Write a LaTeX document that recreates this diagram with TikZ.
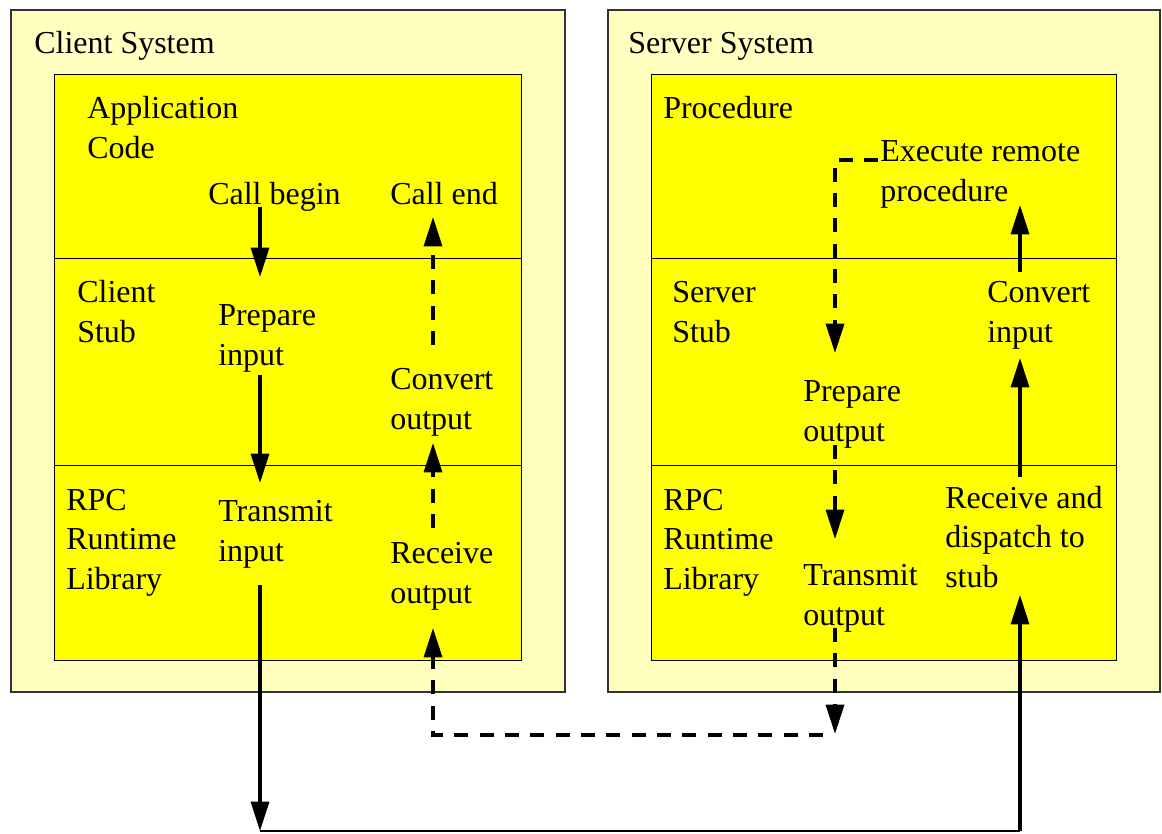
\documentclass[tikz,border=0pt]{standalone}
\usepackage{fontspec}
\setmainfont{Liberation Serif}
\usetikzlibrary{arrows.meta}
\definecolor{syspale}{HTML}{FFFFC0}
\definecolor{layeryellow}{HTML}{FFFF00}
\tikzset{
  sysbox/.style={draw=black!80, line width=1.1pt, fill=syspale},
  layerbox/.style={draw=black, line width=0.75pt, fill=layeryellow},
  divider/.style={draw=black, line width=0.75pt},
  % labels are placed by the baseline of their last line
  lbl/.style={anchor=base west, inner sep=0pt, align=left,
    font=\fontsize{24}{29.6}\selectfont},
  flow/.style={line width=2.5pt, -{Triangle[length=22pt, width=13.5pt]}},
  thinline/.style={line width=1pt},
  dashflow/.style={flow, dash pattern=on 10.5pt off 8.5pt},
}
\begin{document}
\begin{tikzpicture}[x=0.75pt, y=-0.75pt]
\useasboundingbox (0,0) rectangle (1162,833);

% systems and their layers
\path[sysbox] (11,10) rectangle (565,692);
\path[layerbox] (54,74) rectangle (521,660);
\draw[divider] (54,258) -- (521,258);
\draw[divider] (54,465) -- (521,465);

\path[sysbox] (608,10) rectangle (1160,692);
\path[layerbox] (651,74) rectangle (1116,660);
\draw[divider] (651,258) -- (1116,258);
\draw[divider] (651,465) -- (1116,465);

% client side labels
\node[lbl] (clientsys) at (34,53) {Client System};
\node[lbl] (appcode) at (87,158) {Application\\Code};
\node[lbl] (callbegin) at (208,204) {Call begin};
\node[lbl] (callend) at (390,204) {Call end};
\node[lbl] (clientstub) at (77,342) {Client\\Stub};
\node[lbl] (prepin) at (218,365) {Prepare\\input};
\node[lbl] (convout) at (390,429) {Convert\\output};
\node[lbl] (crpc) at (66,589) {RPC\\Runtime\\Library};
\node[lbl] (transin) at (218,561) {Transmit\\input};
\node[lbl] (recvout) at (390,603) {Receive\\output};

% server side labels
\node[lbl] (serversys) at (628,53) {Server System};
\node[lbl] (procedure) at (663,118) {Procedure};
\node[lbl] (execute) at (880,201) {Execute remote\\procedure};
\node[lbl] (serverstub) at (672,342) {Server\\Stub};
\node[lbl] (convin) at (987,342) {Convert\\input};
\node[lbl] (prepout) at (803,441) {Prepare\\output};
\node[lbl] (srpc) at (663,589) {RPC\\Runtime\\Library};
\node[lbl] (transout) at (803,625) {Transmit\\output};
\node[lbl] (recvdisp) at (945,587) {Receive and\\dispatch to\\stub};

% connector ends
\coordinate (callbegin-out) at (260,207);
\coordinate (prepin-in) at (260,277);
\coordinate (prepin-out) at (260,375);
\coordinate (transin-in) at (260,483);
\coordinate (transin-out) at (260,585);
\coordinate (wire-left) at (260,831);
\coordinate (wire-right) at (1020,831);
\coordinate (recvdisp-in) at (1020,595);
\coordinate (recvdisp-out) at (1020,477);
\coordinate (convin-in) at (1020,358);
\coordinate (convin-out) at (1020,272);
\coordinate (execute-in) at (1020,205);
\coordinate (execute-out) at (878,160);
\coordinate (exec-corner) at (835,160);
\coordinate (prepout-in) at (835,353);
\coordinate (prepout-out) at (835,445);
\coordinate (transout-in) at (835,539);
\coordinate (transout-out) at (835,628);
\coordinate (reply-drop) at (835,734);
\coordinate (reply-right) at (823,735);
\coordinate (reply-left) at (433,735);
\coordinate (recvout-in) at (433,628);
\coordinate (recvout-out) at (433,528);
\coordinate (convout-in) at (433,443);
\coordinate (convout-out) at (433,345);
\coordinate (callend-in) at (433,217);

% call path (solid)
\draw[flow] (callbegin-out) -- (prepin-in);
\draw[flow] (prepin-out) -- (transin-in);
\draw[flow] (transin-out) -- (wire-left);
\draw[thinline] (wire-left) -- (wire-right);
\draw[flow] (wire-right) -- (recvdisp-in);
\draw[flow] (recvdisp-out) -- (convin-in);
\draw[flow] (convin-out) -- (execute-in);

% reply path (dashed)
\draw[dashflow] (execute-out) -- (exec-corner) -- (prepout-in);
\draw[dashflow] (prepout-out) -- (transout-in);
\draw[dashflow] (transout-out) -- (reply-drop);
\draw[dashflow] (reply-right) -- (reply-left) -- (recvout-in);
\draw[dashflow] (recvout-out) -- (convout-in);
\draw[dashflow] (convout-out) -- (callend-in);
\end{tikzpicture}
\end{document}
